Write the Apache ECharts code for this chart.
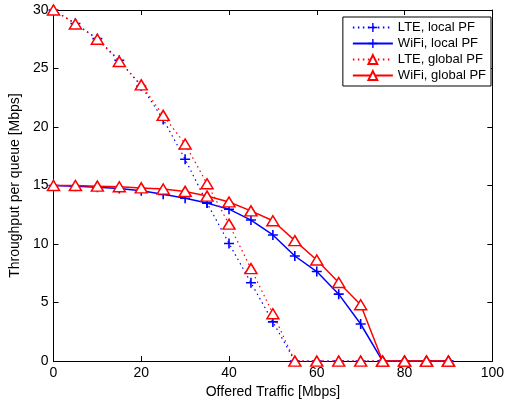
<!DOCTYPE html>
<html><head><meta charset="utf-8">
<script src="https://cdn.jsdelivr.net/npm/echarts@6/dist/echarts.min.js"></script>
<style>html,body{margin:0;padding:0;background:#fff}#c{width:507px;height:404px}</style>
</head><body><div id="c"></div>
<script>
var offered = [0,5,10,15,20,25,30,35,40,45,50,55,60,65,70,75,80,85,90];
var lteLocal  = [30,28.85,27.55,25.7,23.5,20.65,17.25,13.5,10.05,6.7,3.35,0,0,0,0,0,0,0,0];
var wifiLocal = [15,14.95,14.85,14.75,14.55,14.25,13.92,13.5,12.98,12.05,10.78,8.98,7.65,5.72,3.17,0,0,0,0];
var lteGlobal = [30,28.8,27.5,25.6,23.6,21.0,18.55,15.15,11.7,7.9,4.05,0,0,0,0,0,0,0,0];
var wifiGlobal= [15,15,14.95,14.9,14.8,14.7,14.5,14.1,13.6,12.84,11.99,10.29,8.64,6.72,4.81,0,0,0,0];
var names = ['LTE, local PF','WiFi, local PF','LTE, global PF','WiFi, global PF'];
var xTicks = [0,20,40,60,80,100];
var yTicks = [0,5,10,15,20,25,30];

function pairs(arr){ return offered.map(function(x,i){ return [x, arr[i]]; }); }
var plus = 'path://M4.2,0 H5.8 V4.2 H10 V5.8 H5.8 V10 H4.2 V5.8 H0 V4.2 H4.2 Z';
var FONT = 'Liberation Sans, Arial, Helvetica, sans-serif';

function mk(name, data, color, dotted, tri){
  return {
    name: name, type: 'line', data: pairs(data), xAxisIndex:0, yAxisIndex:0,
    symbol: tri ? 'triangle' : plus,
    symbolSize: tri ? [12,10] : 10,
    showAllSymbol: true,
    lineStyle: {color: color, width: dotted ? 1.2 : 1.5, type: dotted ? [1.5,3.5] : 'solid'},
    itemStyle: tri ? {color: '#fff', borderColor: color, borderWidth: 1.5, opacity: 1}
                   : {color: color, borderWidth: 0},
    emphasis: {disabled: true},
    animation: false, z: tri ? 3 : 2
  };
}

var axisCommon = {
  type: 'value',
  axisLine: {show: true, onZero: false, lineStyle: {color: '#000', width: 1}},
  axisTick: {show: true, inside: true, length: 5, lineStyle: {color: '#000'}},
  splitLine: {show: false}
};

var chart = echarts.init(document.getElementById('c'), null, {renderer: 'canvas'});
chart.setOption({
  backgroundColor: '#fff',
  animation: false,
  textStyle: {fontFamily: FONT},
  grid: {left: 49, right: 11, top: 10, bottom: 41, containLabel: false},
  xAxis: [
    Object.assign({}, axisCommon, {position: 'bottom', min: xTicks[0], max: xTicks[xTicks.length-1], interval: 20,
      name: 'Offered Traffic [Mbps]', nameLocation: 'middle', nameGap: 19,
      nameTextStyle: {fontSize: 14, color: '#000', fontFamily: FONT},
      axisLabel: {show: true, margin: 5, fontSize: 14, color: '#000', fontFamily: FONT}}),
    Object.assign({}, axisCommon, {position: 'top', min: 0, max: 100, interval: 20,
      axisLabel: {show: false}})
  ],
  yAxis: [
    Object.assign({}, axisCommon, {position: 'left', min: yTicks[0], max: yTicks[yTicks.length-1], interval: 5,
      name: 'Throughput per queue [Mbps]', nameLocation: 'middle', nameGap: 26,
      nameTextStyle: {fontSize: 14, color: '#000', fontFamily: FONT},
      axisLabel: {show: true, margin: 5, fontSize: 14, color: '#000', fontFamily: FONT}}),
    Object.assign({}, axisCommon, {position: 'right', min: 0, max: 30, interval: 5,
      axisLabel: {show: false}})
  ],
  legend: {
    show: true, orient: 'vertical', right: 16, top: 17,
    data: names,
    backgroundColor: '#fff', borderColor: '#000', borderWidth: 1,
    padding: [4, 5, 4, 9], itemGap: 3, itemWidth: 40, itemHeight: 11,
    textStyle: {fontSize: 13, color: '#000', fontFamily: FONT},
    selectedMode: false
  },
  series: [
    mk(names[0], lteLocal, '#0000ff', true, false),
    mk(names[1], wifiLocal, '#0000ff', false, false),
    mk(names[2], lteGlobal, '#ff0000', true, true),
    mk(names[3], wifiGlobal, '#ff0000', false, true)
  ]
});
</script></body></html>
